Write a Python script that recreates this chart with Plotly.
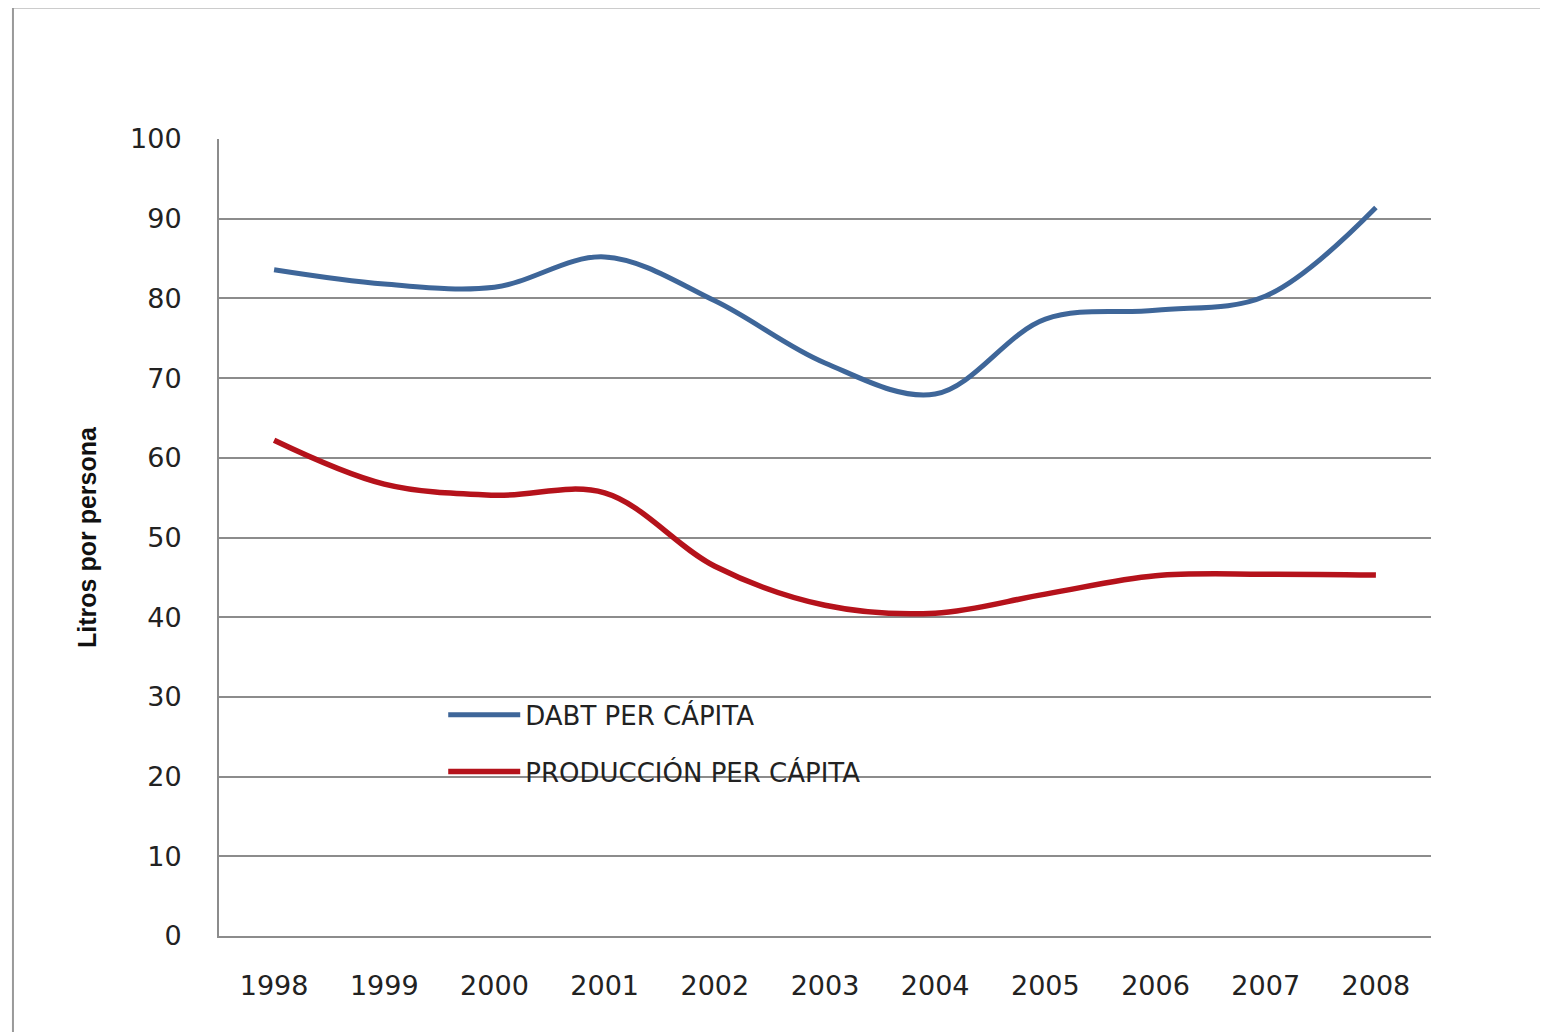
import plotly.graph_objects as go

years = ["1998", "1999", "2000", "2001", "2002", "2003", "2004", "2005", "2006", "2007", "2008"]
dabt_per_capita = [83.6, 81.8, 81.4, 85.2, 79.7, 71.9, 68.0, 77.4, 78.5, 80.3, 91.4]
produccion_per_capita = [62.2, 56.7, 55.3, 55.6, 46.4, 41.5, 40.5, 42.9, 45.2, 45.4, 45.3]

y_ticks = list(range(0, 101, 10))

font = "DejaVu Sans"
grid = "#8c8c8c"

fig = go.Figure()
fig.add_trace(go.Scatter(
    x=years, y=dabt_per_capita, mode="lines", name="DABT PER CÁPITA", legendgroup="a",
    line=dict(color="#3e6699", width=5, shape="spline", smoothing=1.0)))
fig.add_trace(go.Scatter(
    x=years, y=produccion_per_capita, mode="lines", name="PRODUCCIÓN PER CÁPITA", legendgroup="b",
    line=dict(color="#b5121b", width=5.5, shape="spline", smoothing=1.0)))

# outer chart-area frame (runs off the right and bottom of the picture)
fig.add_shape(type="rect", xref="paper", yref="paper",
              x0=-0.170, x1=1.2, y0=-0.3, y1=1.165,
              line=dict(color="#9a9a9a", width=2), layer="below")

fig.update_layout(
    width=1548, height=1032,
    margin=dict(l=211, r=125, t=131, b=104),
    paper_bgcolor="white", plot_bgcolor="white",
    font=dict(family=font, color="#1a1a1a"),
    showlegend=True,
    legend=dict(x=0.185, y=0.307, xanchor="left", yanchor="top",
                bgcolor="rgba(0,0,0,0)", font=dict(size=26, family=font, color="#222"),
                traceorder="grouped", tracegroupgap=20, itemwidth=72),
    xaxis=dict(type="category", range=[-0.5, 10.5], showgrid=False,
               showline=True, linecolor=grid, linewidth=2,
               ticks="", tickfont=dict(size=27, color="#222"), ticklabelstandoff=25),
    yaxis=dict(range=[0, 100], tickvals=y_ticks, showgrid=True,
               gridcolor=grid, gridwidth=2, zeroline=False,
               showline=True, linecolor=grid, linewidth=2,
               ticks="", tickfont=dict(size=27, color="#222"), ticklabelstandoff=30,
               title=dict(text="<b>Litros por persona</b>",
                          font=dict(size=25, family="Liberation Sans", color="#111"), standoff=26)),
)

fig.write_html("out.html")
